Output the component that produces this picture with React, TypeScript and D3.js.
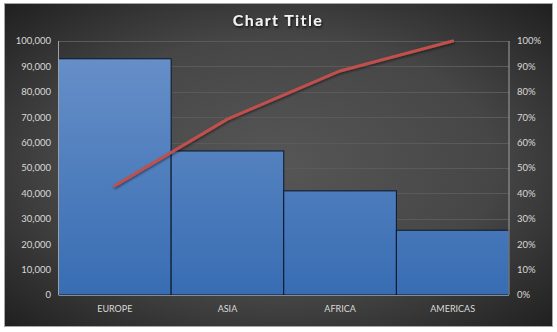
import React from "react";
import * as d3 from "d3";

const categories = ["EUROPE", "ASIA", "AFRICA", "AMERICAS"];
const values = [93000, 56700, 41000, 25500];
const leftTicks = [0, 10000, 20000, 30000, 40000, 50000, 60000, 70000, 80000, 90000, 100000];
const rightTicks = [0, 0.1, 0.2, 0.3, 0.4, 0.5, 0.6, 0.7, 0.8, 0.9, 1];
const title = "Chart Title";

const W = 557;
const H = 332;
const plot = { left: 58.5, right: 509, top: 41, bottom: 295 };

export default function App() {
  const x = d3.scaleBand<string>().domain(categories).range([plot.left, plot.right]).padding(0);
  const y = d3.scaleLinear().domain([0, 100000]).range([plot.bottom, plot.top]);
  const yPct = d3.scaleLinear().domain([0, 1]).range([plot.bottom, plot.top]);
  const total = d3.sum(values);
  const cum = d3.cumsum(values).map((v) => v / total);
  const line = d3
    .line<number>()
    .x((_, i) => (x(categories[i]) as number) + x.bandwidth() / 2)
    .y((d) => yPct(d));
  const fmt = d3.format(",");
  const pct = d3.format(".0%");
  const font = "Lato, 'Open Sans', sans-serif";
  const txt = "#d9d9d9";

  return (
    <div style={{ position: "fixed", top: 0, left: 0 }}>
      <svg width={W} height={H} style={{ display: "block", background: "#fff" }}>
        <defs>
          <radialGradient id="bg" cx="50%" cy="50%" r="72%">
            <stop offset="0%" stopColor="#565656" />
            <stop offset="55%" stopColor="#464646" />
            <stop offset="100%" stopColor="#1e1e1e" />
          </radialGradient>
          <linearGradient id="bar" gradientUnits="userSpaceOnUse" x1={0} x2={0} y1={plot.top} y2={plot.bottom}>
            <stop offset="0%" stopColor="#6991c9" />
            <stop offset="100%" stopColor="#386db3" />
          </linearGradient>
          <filter id="tshadow" x="-20%" y="-50%" width="140%" height="200%">
            <feDropShadow dx="1" dy="1.5" stdDeviation="1" floodColor="#000" floodOpacity="0.8" />
          </filter>
          <filter id="lshadow" x="-10%" y="-10%" width="120%" height="130%">
            <feDropShadow dx="0.5" dy="1.5" stdDeviation="1" floodColor="#000" floodOpacity="0.5" />
          </filter>
        </defs>
        <rect x={4.5} y={3.5} width={548} height={323} fill="url(#bg)" stroke="#a6a6a6" strokeWidth={1} />
        <text
          x={278}
          y={26}
          textAnchor="middle"
          fill="#f2f2f2"
          fontFamily={font}
          fontWeight="bold"
          fontSize={16}
          letterSpacing={1.4}
          filter="url(#tshadow)"
        >
          {title}
        </text>
        {leftTicks.filter((t) => t > 0).map((t) => (
          <line key={"g" + t} x1={plot.left} x2={plot.right} y1={Math.round(y(t)) + 0.5} y2={Math.round(y(t)) + 0.5} stroke="#5a5a5a" strokeWidth={1} />
        ))}
        {values.map((v, i) => (
          <rect
            key={categories[i]}
            x={x(categories[i]) as number}
            y={y(v)}
            width={x.bandwidth()}
            height={plot.bottom - y(v)}
            fill="url(#bar)"
            stroke="#0b1629"
            strokeWidth={1}
          />
        ))}
        <line x1={plot.left} x2={plot.left} y1={plot.top} y2={plot.bottom} stroke="#a0a0a0" strokeWidth={1} />
        <line x1={plot.right} x2={plot.right} y1={plot.top} y2={plot.bottom} stroke="#a0a0a0" strokeWidth={1} />
        <line x1={plot.left} x2={plot.right} y1={plot.bottom + 0.5} y2={plot.bottom + 0.5} stroke="#8a8a8a" strokeWidth={1} />
        <path d={line(cum) || ""} fill="none" stroke="#c0504d" strokeWidth={3} strokeLinejoin="round" strokeLinecap="round" filter="url(#lshadow)" />
        {leftTicks.map((t) => (
          <text key={"l" + t} x={51} y={y(t)} dy="0.35em" textAnchor="end" fill={txt} fontFamily={font} fontSize={9.5}>
            {fmt(t)}
          </text>
        ))}
        {rightTicks.map((t) => (
          <text key={"r" + t} x={517} y={yPct(t)} dy="0.35em" textAnchor="start" fill={txt} fontFamily={font} fontSize={9.5}>
            {pct(t)}
          </text>
        ))}
        {categories.map((c) => (
          <text key={"c" + c} x={(x(c) as number) + x.bandwidth() / 2} y={312} textAnchor="middle" fill={txt} fontFamily={font} fontSize={9}>
            {c}
          </text>
        ))}
      </svg>
    </div>
  );
}
